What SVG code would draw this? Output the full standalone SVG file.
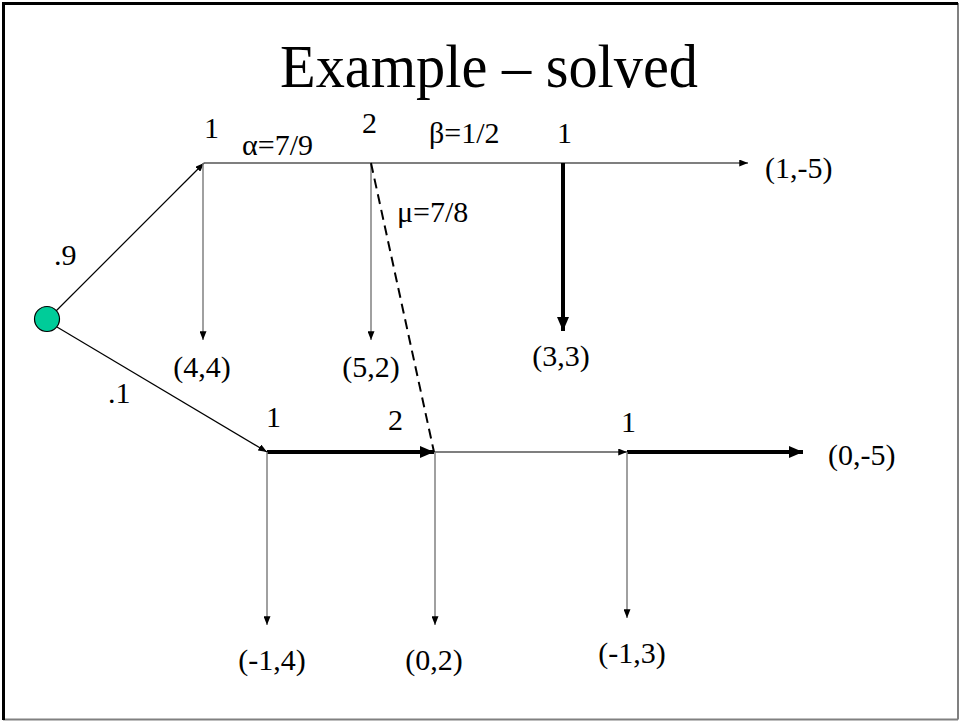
<svg xmlns="http://www.w3.org/2000/svg" width="960" height="721" viewBox="0 0 960 721">
<defs>
<marker id="a" viewBox="0 0 10 8" refX="10" refY="4" markerWidth="9" markerHeight="7" markerUnits="userSpaceOnUse" orient="auto"><path d="M0,0 L10,4 L0,8 z" fill="#000"/></marker>
<marker id="b" viewBox="0 0 14 12" refX="14" refY="6" markerWidth="15" markerHeight="12" markerUnits="userSpaceOnUse" orient="auto"><path d="M0,0 L14,6 L0,12 z" fill="#000"/></marker>
</defs>
<style>
text{font-family:'Liberation Serif',Tinos,'Times New Roman',Times,serif;fill:#000;font-size:30px}
.m{text-anchor:middle}
.t{stroke:#000;stroke-width:1.2;fill:none}
.g{stroke:#808080;stroke-width:1.5;fill:none}
.k{stroke:#000;stroke-width:4;fill:none}
</style>
<rect width="960" height="721" fill="#fff"/>
<g id="frame">
<line x1="958" y1="3" x2="958" y2="719.5" stroke="#808080" stroke-width="2"/>
<line x1="3" y1="719.5" x2="958" y2="719.5" stroke="#808080" stroke-width="2"/>
<line x1="3.5" y1="2" x2="3.5" y2="720" stroke="#000" stroke-width="3"/>
<line x1="2" y1="3.5" x2="958" y2="3.5" stroke="#000" stroke-width="3"/>
</g>
<text id="title" x="489" y="87" class="m" style="font-size:62px" textLength="418" lengthAdjust="spacingAndGlyphs">Example – solved</text>
<g id="connectors">
<line class="t" x1="56" y1="311" x2="204" y2="163" marker-end="url(#a)"/>
<line class="t" x1="57" y1="327" x2="267" y2="452" marker-end="url(#a)"/>
<line class="t" x1="204" y1="163" x2="748" y2="163" marker-end="url(#a)"/>
<line class="g" x1="203" y1="163" x2="203" y2="340" marker-end="url(#a)"/>
<line class="g" x1="371" y1="163" x2="371" y2="340" marker-end="url(#a)"/>
<line class="k" x1="563" y1="163" x2="563" y2="331" marker-end="url(#b)"/>
<line x1="371" y1="163" x2="434" y2="452" stroke="#000" stroke-width="2" stroke-dasharray="10,6"/>
<line class="k" x1="267" y1="452" x2="434" y2="452" marker-end="url(#b)"/>
<line class="t" x1="434" y1="452" x2="627" y2="452" marker-end="url(#a)"/>
<line class="k" x1="627" y1="452" x2="803" y2="452" marker-end="url(#b)"/>
<line class="g" x1="267" y1="452" x2="267" y2="625" marker-end="url(#a)"/>
<line class="g" x1="435" y1="452" x2="435" y2="625" marker-end="url(#a)"/>
<line class="g" x1="627" y1="452" x2="627" y2="618" marker-end="url(#a)"/>
</g>
<g id="root"><circle cx="47" cy="319" r="12.5" fill="#00cc99" stroke="#000" stroke-width="1.2"/></g>
<g id="labels">
<text x="54" y="265">.9</text>
<text x="108" y="403">.1</text>
<text x="204" y="138">1</text>
<text x="242" y="155">α=7/9</text>
<text x="362" y="133">2</text>
<text x="429" y="143">β=1/2</text>
<text x="557" y="143">1</text>
<text x="397" y="222">μ=7/8</text>
<text x="202" y="377" class="m">(4,4)</text>
<text x="371" y="377" class="m">(5,2)</text>
<text x="561" y="366" class="m">(3,3)</text>
<text x="765" y="178">(1,-5)</text>
<text x="266" y="427">1</text>
<text x="388" y="430">2</text>
<text x="621" y="432">1</text>
<text x="828" y="465">(0,-5)</text>
<text x="272" y="670" class="m">(-1,4)</text>
<text x="434" y="670" class="m">(0,2)</text>
<text x="632" y="663" class="m">(-1,3)</text>
</g>
</svg>
